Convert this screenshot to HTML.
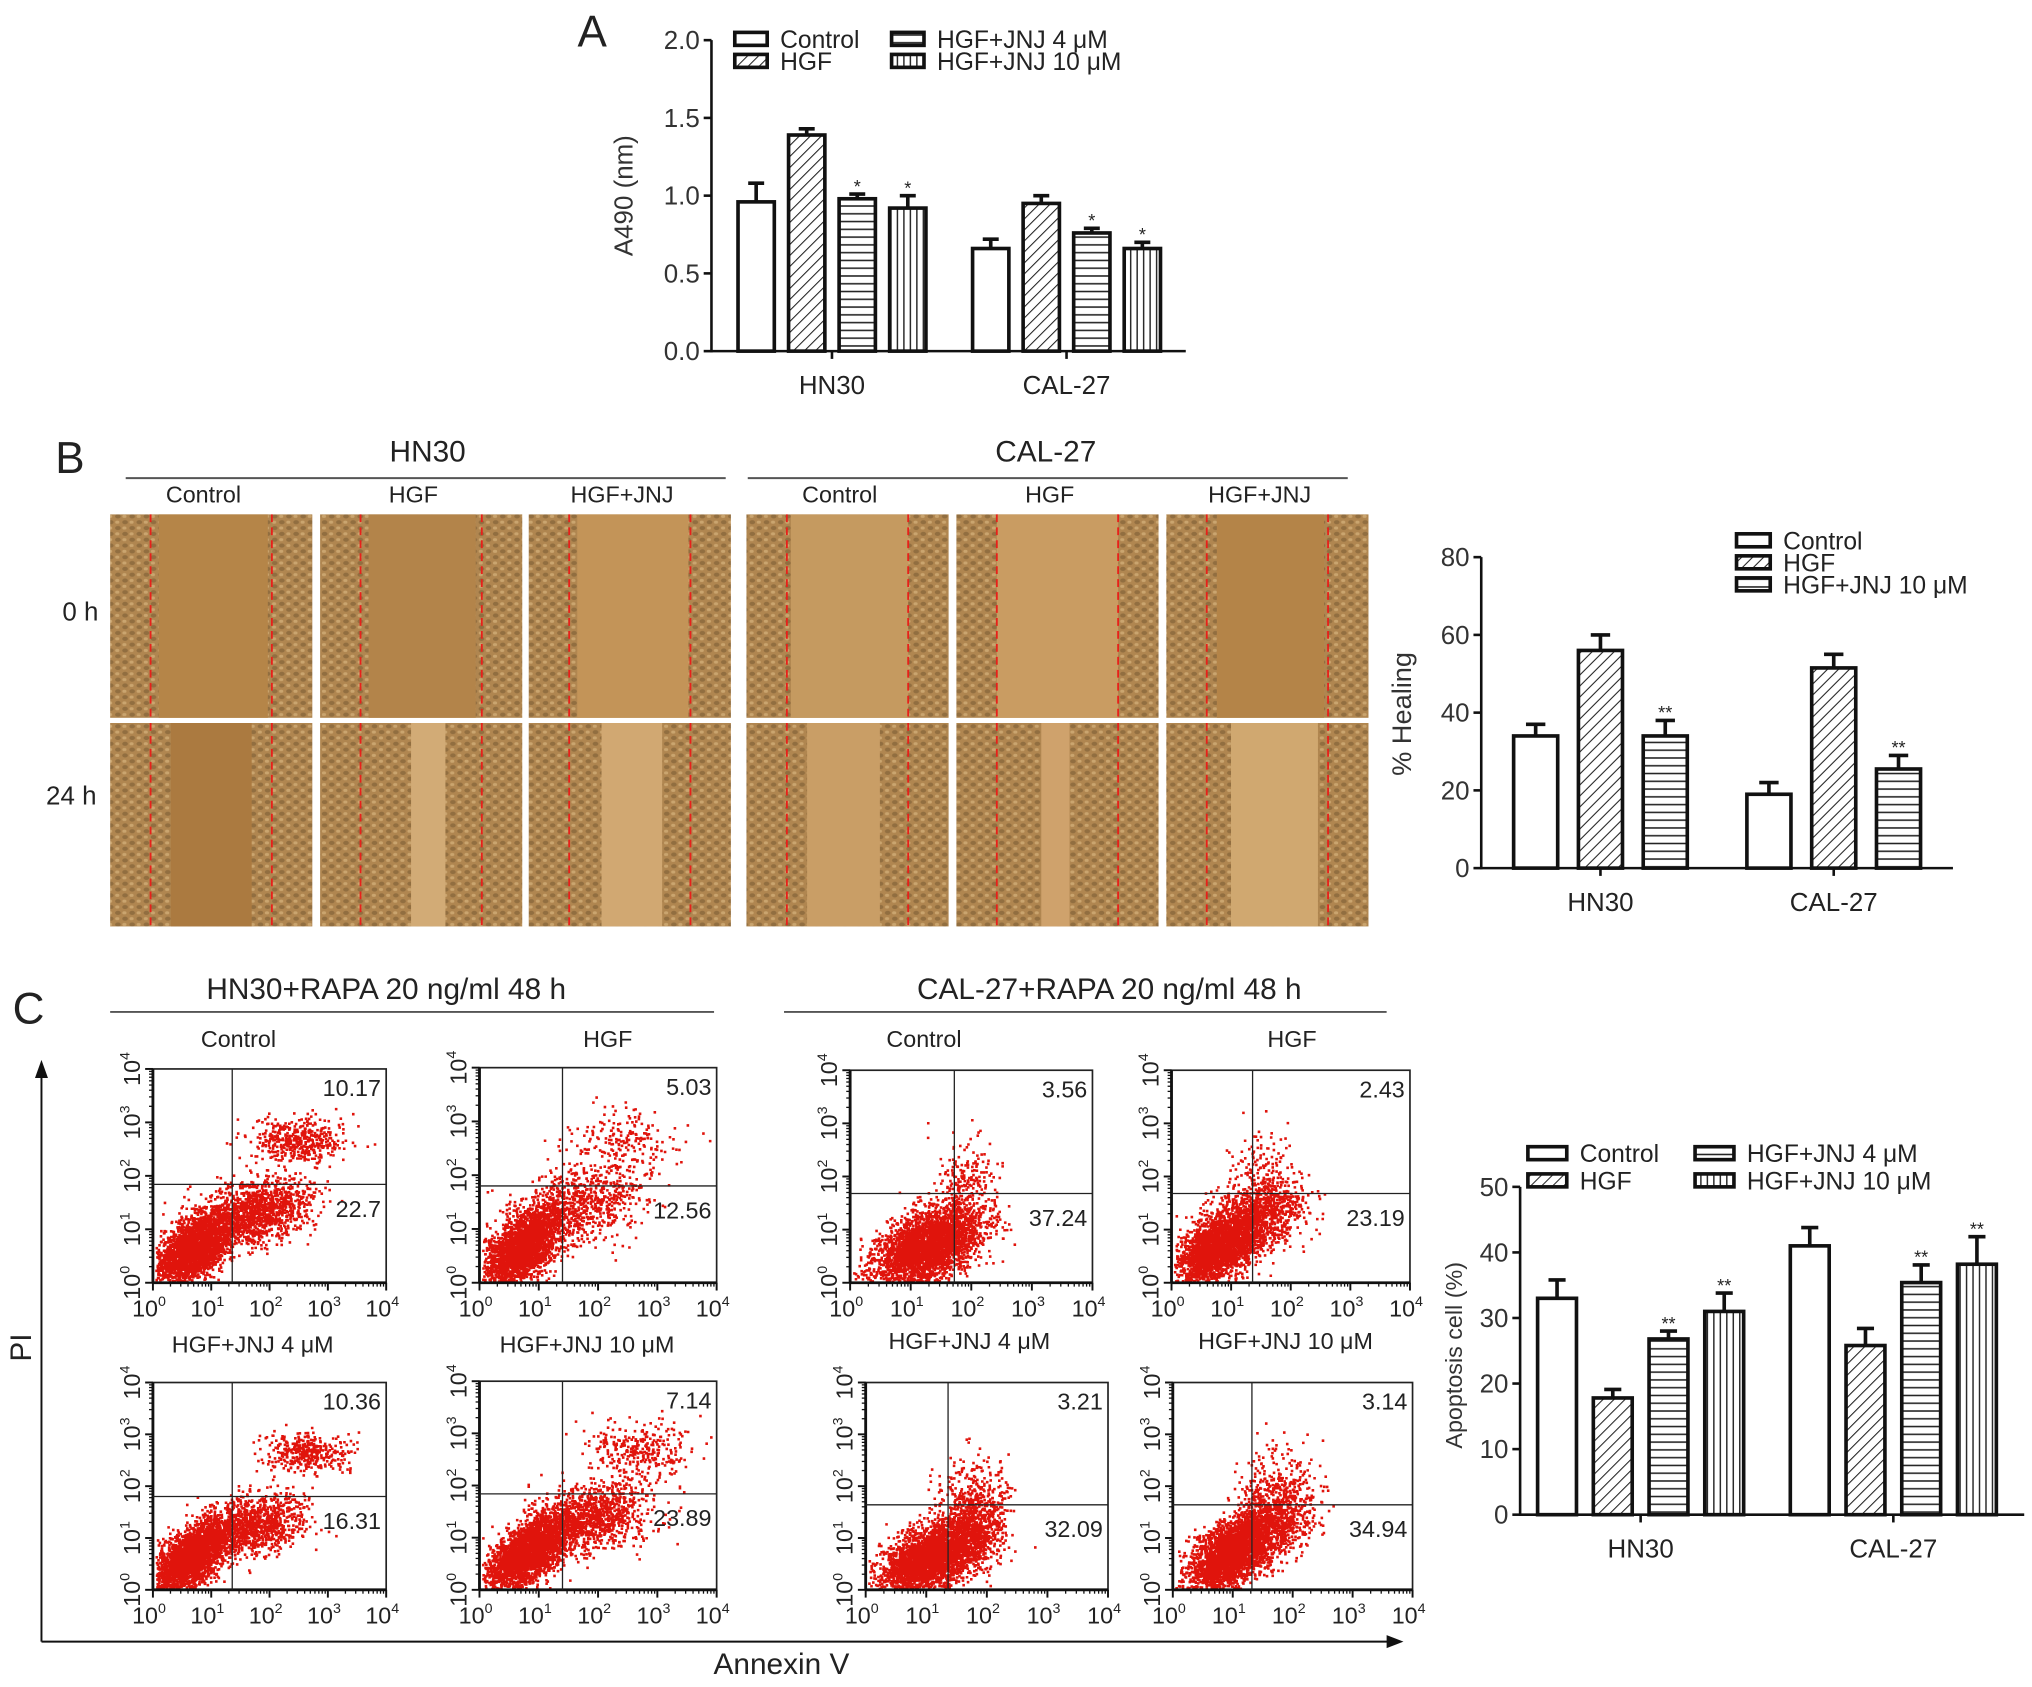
<!DOCTYPE html>
<html><head><meta charset="utf-8">
<style>
html,body{margin:0;padding:0;background:#fff;}
svg{display:block;font-family:"Liberation Sans",Arial,sans-serif;}
</style></head>
<body>
<svg id="fig" xmlns="http://www.w3.org/2000/svg" width="2032" height="1687" viewBox="0 0 1568 1302" preserveAspectRatio="none">
<defs>
<pattern id="hatchD" patternUnits="userSpaceOnUse" width="6" height="6" patternTransform="rotate(45)"><rect width="6" height="6" fill="#fff"/><line x1="0" y1="0" x2="0" y2="6" stroke="#222" stroke-width="1.6"/></pattern>
<pattern id="hatchH" patternUnits="userSpaceOnUse" width="6" height="6"><rect width="6" height="6" fill="#fff"/><line x1="0" y1="3" x2="6" y2="3" stroke="#222" stroke-width="1.2"/></pattern>
<pattern id="hatchV" patternUnits="userSpaceOnUse" width="5" height="6"><rect width="5" height="6" fill="#fff"/><line x1="2.5" y1="0" x2="2.5" y2="6" stroke="#222" stroke-width="1.1"/></pattern>
<pattern id="cells" patternUnits="userSpaceOnUse" width="11" height="9">
<rect width="11" height="9" fill="#b08650"/>
<ellipse cx="3" cy="2.5" rx="2.2" ry="1.6" fill="#7d5e35" opacity="0.6"/>
<ellipse cx="8.5" cy="7" rx="2.2" ry="1.6" fill="#7d5e35" opacity="0.6"/>
<ellipse cx="8" cy="2.5" rx="1.6" ry="1.2" fill="#d6b27c" opacity="0.7"/>
<ellipse cx="2.5" cy="7" rx="1.6" ry="1.2" fill="#d6b27c" opacity="0.7"/>
</pattern>
</defs>
<g id="root"></g>
</svg>
<script>
// ---------- Chart A data ----------
const aCategories = ["HN30", "CAL-27"];
const aSeries = ["Control", "HGF", "HGF+JNJ 4 \u03bcM", "HGF+JNJ 10 \u03bcM"];
const aValues = [[0.96, 1.39, 0.98, 0.92], [0.66, 0.95, 0.76, 0.66]];
const aErrors = [[0.12, 0.04, 0.03, 0.08], [0.06, 0.05, 0.03, 0.04]];
const aStars = [["", "", "*", "*"], ["", "", "*", "*"]];
const aTicks = [0, 0.5, 1.0, 1.5, 2.0];
const aTickLabels = ["0.0", "0.5", "1.0", "1.5", "2.0"];
// ---------- Chart B data ----------
const bCategories = ["HN30", "CAL-27"];
const bSeries = ["Control", "HGF", "HGF+JNJ 10 \u03bcM"];
const bValues = [[34, 56, 34], [19, 51.5, 25.5]];
const bErrors = [[3, 4, 4], [3, 3.5, 3.5]];
const bStars = [["", "", "**"], ["", "", "**"]];
const bTicks = [0, 20, 40, 60, 80];
// ---------- Chart C data ----------
const cCategories = ["HN30", "CAL-27"];
const cSeries = ["Control", "HGF", "HGF+JNJ 4 \u03bcM", "HGF+JNJ 10 \u03bcM"];
const cValues = [[33, 17.8, 26.8, 31], [41, 25.8, 35.4, 38.2]];
const cErrors = [[2.8, 1.3, 1.2, 2.8], [2.8, 2.6, 2.7, 4.2]];
const cStars = [["", "", "**", "**"], ["", "", "**", "**"]];
const cTicks = [0, 10, 20, 30, 40, 50];
// ---------- Flow cytometry quadrant values ----------
const flowTitles = ["Control", "HGF", "Control", "HGF", "HGF+JNJ 4 \u03bcM", "HGF+JNJ 10 \u03bcM", "HGF+JNJ 4 \u03bcM", "HGF+JNJ 10 \u03bcM"];
const flowUpperRight = ["10.17", "5.03", "3.56", "2.43", "10.36", "7.14", "3.21", "3.14"];
const flowLowerRight = ["22.7", "12.56", "37.24", "23.19", "16.31", "23.89", "32.09", "34.94"];
const flowGateX = [0.34, 0.35, 0.43, 0.34, 0.34, 0.35, 0.34, 0.33];
const flowGateY = [0.54, 0.55, 0.58, 0.58, 0.55, 0.54, 0.59, 0.59];

const NS = "http://www.w3.org/2000/svg";
const root = document.getElementById("root");
function el(tag, attrs, parent, text) {
  const e = document.createElementNS(NS, tag);
  for (const k in attrs) e.setAttribute(k, attrs[k]);
  if (text !== undefined) e.textContent = text;
  (parent || root).appendChild(e);
  return e;
}
const fills = ["#fff", "url(#hatchD)", "url(#hatchH)", "url(#hatchV)"];

function barChart(o) {
  const g = el("g", {});  
  const yScale = v => o.y0 - (v - o.min) / (o.max - o.min) * (o.y0 - o.yTop);
  const ya = el("line", {x1: o.ax, y1: o.y0 + 1, x2: o.ax, y2: o.yTop, stroke: "#111", "stroke-width": 2}, g);
   
  const xa = el("line", {x1: o.ax, y1: o.y0, x2: o.axEnd, y2: o.y0, stroke: "#111", "stroke-width": 2}, g);
   
  o.ticks.forEach((t, i) => {
    const y = yScale(t);
    el("line", {x1: o.ax - 6, y1: y, x2: o.ax, y2: y, stroke: "#111", "stroke-width": 2}, g);
    const tl = el("text", {x: o.ax - 9, y: y + 7, "text-anchor": "end", "font-size": 20, fill: "#333"}, g, o.tickLabels ? o.tickLabels[i] : String(t));
     
  });
  const yl = el("text", {x: o.ylx, y: o.yly, "text-anchor": "middle", "font-size": o.ylSize || 20, fill: "#333", transform: `rotate(-90 ${o.ylx} ${o.yly})`}, g, o.yLabel);
   
  o.cats.forEach((c, ci) => {
    const gc = o.groupCenters[ci];
    el("line", {x1: gc, y1: o.y0, x2: gc, y2: o.y0 + 6, stroke: "#111", "stroke-width": 2}, g);
    const cl = el("text", {x: gc, y: o.y0 + 33, "text-anchor": "middle", "font-size": 20, fill: "#222"}, g, c);
     
    o.values[ci].forEach((v, si) => {
      const n = o.values[ci].length;
      const cx = gc + (si - (n - 1) / 2) * o.step;
      const x = cx - o.bw / 2, yt = yScale(v);
      const r = el("rect", {x: x, y: yt, width: o.bw, height: o.y0 - yt, fill: fills[o.fillIdx[si]], stroke: "#111", "stroke-width": 2.8}, g);
       
      const ye = yScale(v + o.errors[ci][si]);
      el("line", {x1: cx, y1: yt, x2: cx, y2: ye, stroke: "#111", "stroke-width": 2.8}, g);
      const cap = el("line", {x1: cx - o.bw * 0.22, y1: ye, x2: cx + o.bw * 0.22, y2: ye, stroke: "#111", "stroke-width": 2.8}, g);
       
      if (o.stars[ci][si]) {
        const st = el("text", {x: cx, y: ye - 1, "text-anchor": "middle", "font-size": 14, fill: "#222"}, g, o.stars[ci][si]);
         
      }
    });
  });
  o.legend.forEach((L, i) => {
    const r = el("rect", {x: L[0], y: L[1], width: o.lw, height: 10, fill: fills[o.fillIdx[i]], stroke: "#111", "stroke-width": 2.8}, g);
     
    const t = el("text", {x: L[0] + o.lw + 10, y: L[1] + 12, "font-size": 19, fill: "#222"}, g, o.series[i]);
     
  });
}

function label(x, y, txt, size, name, anchor, extra) {
  const a = Object.assign({x: x, y: y, "font-size": size, fill: "#222", "text-anchor": anchor || "middle"}, extra || {});
  const t = el("text", a, root, txt);
   
  return t;
}

label(457, 36, "A", 34, "panel-label-a");
label(54, 365, "B", 34, "panel-label-b");
label(22, 790, "C", 34, "panel-label-c");

barChart({name: "chart-a-a490", cats: aCategories, series: aSeries, values: aValues, errors: aErrors, stars: aStars,
  ticks: aTicks, tickLabels: aTickLabels, min: 0, max: 2, ax: 549, axEnd: 915, y0: 271, yTop: 31,
  groupCenters: [642, 823], step: 39, bw: 28, fillIdx: [0, 1, 2, 3], yLabel: "A490 (nm)", ylx: 488, yly: 151,
  legend: [[567, 25], [567, 42], [688, 25], [688, 42]], lw: 25});

barChart({name: "chart-b-healing", cats: bCategories, series: bSeries, values: bValues, errors: bErrors, stars: bStars,
  ticks: bTicks, min: 0, max: 80, ax: 1143, axEnd: 1507, y0: 670, yTop: 430,
  groupCenters: [1235, 1415], step: 50, bw: 34, fillIdx: [0, 1, 2], yLabel: "% Healing", ylx: 1089, yly: 551, ylSize: 21,
  legend: [[1340, 412], [1340, 429], [1340, 446]], lw: 26});

barChart({name: "chart-c-apoptosis", cats: cCategories, series: cSeries, values: cValues, errors: cErrors, stars: cStars,
  ticks: cTicks, min: 0, max: 50, ax: 1173, axEnd: 1562, y0: 1169, yTop: 916,
  groupCenters: [1266, 1461], step: 43, bw: 30, fillIdx: [0, 1, 2, 3], yLabel: "Apoptosis cell (%)", ylx: 1128, yly: 1046, ylSize: 18,
  legend: [[1179, 885], [1179, 906], [1308, 885], [1308, 906]], lw: 30});

// ---------- Panel B micrographs ----------
label(330, 356, "HN30", 23, "group-title-hn30");
label(807, 356, "CAL-27", 23, "group-title-cal27");
el("line", {x1: 97, y1: 369, x2: 560, y2: 369, stroke: "#555", "stroke-width": 1.5});
el("line", {x1: 577, y1: 369, x2: 1040, y2: 369, stroke: "#555", "stroke-width": 1.5});
const microCols = [85, 247, 408, 576, 738, 900];
const microNames = ["Control", "HGF", "HGF+JNJ", "Control", "HGF", "HGF+JNJ"];
const gap0 = [[0.24, 0.78], [0.24, 0.77], [0.24, 0.79], [0.22, 0.8], [0.2, 0.8], [0.25, 0.78]];
const gap24 = [[0.3, 0.7], [0.45, 0.62], [0.36, 0.66], [0.3, 0.66], [0.42, 0.56], [0.32, 0.75]];
const gapColor0 = ["#b58548", "#b3844a", "#c39458", "#c59a60", "#c99c62", "#b48448"];
const gapColor24 = ["#ab7a40", "#d2ab76", "#d1a872", "#c99e66", "#cfa26c", "#d0a870"];
microCols.forEach((x, i) => {
  label(x + 72, 388, microNames[i], 18, "condition-label");
  [[397, gap0, gapColor0], [558, gap24, gapColor24]].forEach((row, ri) => {
    const y = row[0], w = 156, h = 157;
    const g = el("g", {});
     
    el("rect", {x: x, y: y, width: w, height: h, fill: "url(#cells)"}, g);
    const gp = row[1][i];
    el("rect", {x: x + w * gp[0], y: y, width: w * (gp[1] - gp[0]), height: h, fill: row[2][i]}, g);
    [0.2, 0.8].forEach(f => el("line", {x1: x + w * f, y1: y, x2: x + w * f, y2: y + h, stroke: "#e8201a", "stroke-width": 1.4, "stroke-dasharray": "6 4"}, g));
  });
});
label(62, 479, "0 h", 20, "row-label-0h", "middle");
label(55, 621, "24 h", 20, "row-label-24h", "middle");

// ---------- Panel C flow plots ----------
label(298, 771, "HN30+RAPA 20 ng/ml 48 h", 23, "group-title-hn30-rapa");
label(856, 771, "CAL-27+RAPA 20 ng/ml 48 h", 23, "group-title-cal27-rapa");
el("line", {x1: 85, y1: 781, x2: 551, y2: 781, stroke: "#555", "stroke-width": 1.5});
el("line", {x1: 605, y1: 781, x2: 1070, y2: 781, stroke: "#555", "stroke-width": 1.5});
const flowBoxes = [[118, 825, 180, 165], [370, 824, 183, 166], [656, 826, 187, 164], [904, 826, 184, 164],
                   [118, 1067, 180, 160], [370, 1066, 183, 161], [668, 1067, 187, 160], [905, 1067, 185, 160]];
const flowTitlePos = [[184, 808], [469, 808], [713, 808], [997, 808], [195, 1044], [453, 1044], [748, 1041], [992, 1041]];
const flowClouds = [
  [[0.17, 0.84, 0.08, 0.07, 2600, 0.6], [0.44, 0.66, 0.12, 0.07, 1300, 0.2], [0.62, 0.33, 0.1, 0.05, 450, 0]],
  [[0.18, 0.83, 0.08, 0.08, 2600, 0.7], [0.45, 0.63, 0.13, 0.09, 700, 0.2], [0.6, 0.33, 0.12, 0.08, 200, 0]],
  [[0.32, 0.82, 0.11, 0.08, 3200, 0.4], [0.47, 0.52, 0.06, 0.1, 200, 0]],
  [[0.2, 0.82, 0.1, 0.08, 2700, 0.5], [0.38, 0.66, 0.09, 0.09, 700, 0.2], [0.36, 0.45, 0.07, 0.1, 100, 0]],
  [[0.16, 0.84, 0.08, 0.07, 2600, 0.6], [0.42, 0.68, 0.11, 0.07, 1100, 0.2], [0.65, 0.33, 0.09, 0.05, 380, 0]],
  [[0.2, 0.82, 0.09, 0.07, 2600, 0.6], [0.46, 0.65, 0.13, 0.08, 1100, 0.2], [0.66, 0.33, 0.11, 0.07, 320, 0]],
  [[0.26, 0.84, 0.1, 0.08, 2800, 0.4], [0.44, 0.7, 0.07, 0.11, 800, 0.2], [0.45, 0.5, 0.07, 0.1, 150, 0]],
  [[0.24, 0.82, 0.09, 0.08, 2800, 0.6], [0.42, 0.66, 0.08, 0.09, 800, 0.2], [0.45, 0.48, 0.08, 0.1, 160, 0]]
];
let seed = 12345;
function rnd() { seed = (seed * 1664525 + 1013904223) % 4294967296; return seed / 4294967296; }
function gauss() { let u = rnd() || 1e-6, v = rnd(); return Math.sqrt(-2 * Math.log(u)) * Math.cos(2 * Math.PI * v); }
function sup(t, base, exp) {
  el("tspan", {}, t, base);
  el("tspan", {dy: -8, "font-size": 11}, t, exp);
}
flowBoxes.forEach((b, pi) => {
  const [x, y, w, h] = b;
  const g = el("g", {});
   
  const tp = flowTitlePos[pi];
  const tt = el("text", {x: tp[0], y: tp[1], "text-anchor": "middle", "font-size": 18, fill: "#222"}, g, flowTitles[pi]);
   
  let d = "";
  flowClouds[pi].forEach(c => {
    for (let k = 0; k < c[4]; k++) {
      const gx = gauss(), gy = gauss();
      let fx = c[0] + gx * c[2];
      let fy = c[1] + gy * c[3] - c[5] * gx * c[2];
      if (fx < 0.01 || fx > 0.98 || fy < 0.02 || fy > 0.99) continue;
      d += `M${(x + fx * w).toFixed(1)} ${(y + fy * h).toFixed(1)}h2v2h-2z`;
    }
  });
  const dots = el("path", {d: d, fill: "#e0140c"}, g);
   
  el("rect", {x: x, y: y, width: w, height: h, fill: "none", stroke: "#222", "stroke-width": 1.3}, g);
  el("line", {x1: x, y1: y + h, x2: x + w, y2: y + h, stroke: "#111", "stroke-width": 2.2}, g);
  el("line", {x1: x, y1: y, x2: x, y2: y + h, stroke: "#111", "stroke-width": 2.2}, g);
  const gx = x + flowGateX[pi] * w, gy = y + flowGateY[pi] * h;
  el("line", {x1: gx, y1: y, x2: gx, y2: y + h, stroke: "#222", "stroke-width": 1}, g);
  el("line", {x1: x, y1: gy, x2: x + w, y2: gy, stroke: "#222", "stroke-width": 1}, g);
  const q1 = el("text", {x: x + w - 4, y: y + 21, "text-anchor": "end", "font-size": 18, fill: "#222"}, g, flowUpperRight[pi]);
   
  const q2 = el("text", {x: x + w - 4, y: gy + 25, "text-anchor": "end", "font-size": 18, fill: "#222"}, g, flowLowerRight[pi]);
   
  for (let k = 0; k <= 4; k++) {
    const tx = x + k * w / 4, ty = y + h - k * h / 4;
    el("line", {x1: tx, y1: y + h, x2: tx, y2: y + h + 6, stroke: "#111", "stroke-width": 1.5}, g);
    el("line", {x1: x - 6, y1: ty, x2: x, y2: ty, stroke: "#111", "stroke-width": 1.5}, g);
    if (k < 4) for (let m = 2; m <= 9; m++) {
      const f = Math.log10(m) / 4;
      el("line", {x1: x + (k / 4 + f) * w, y1: y + h, x2: x + (k / 4 + f) * w, y2: y + h + 3, stroke: "#111", "stroke-width": 1}, g);
      el("line", {x1: x - 3, y1: y + h - (k / 4 + f) * h, x2: x, y2: y + h - (k / 4 + f) * h, stroke: "#111", "stroke-width": 1}, g);
    }
    const xt = el("text", {x: tx - 3, y: y + h + 26, "text-anchor": "middle", "font-size": 18, fill: "#222"}, g);
    sup(xt, "10", String(k));
     
    const yt = el("text", {x: x - 13, y: ty + 3, "text-anchor": "middle", "font-size": 18, fill: "#222", transform: `rotate(-90 ${x - 13} ${ty})`}, g);
    sup(yt, "10", String(k));
     
  }
});
el("line", {x1: 32, y1: 1267, x2: 32, y2: 830, stroke: "#111", "stroke-width": 1.5});
el("path", {d: "M27 832 L32 818 L37 832 Z", fill: "#111"});
el("line", {x1: 32, y1: 1267, x2: 1072, y2: 1267, stroke: "#111", "stroke-width": 1.5});
el("path", {d: "M1070 1262 L1083 1267 L1070 1272 Z", fill: "#111"});
label(24, 1040, "PI", 23, "y-axis-title-pi", "middle", {transform: "rotate(-90 24 1040)"});
label(603, 1292, "Annexin V", 23, "x-axis-title-annexin-v");
</script>
</body></html>
